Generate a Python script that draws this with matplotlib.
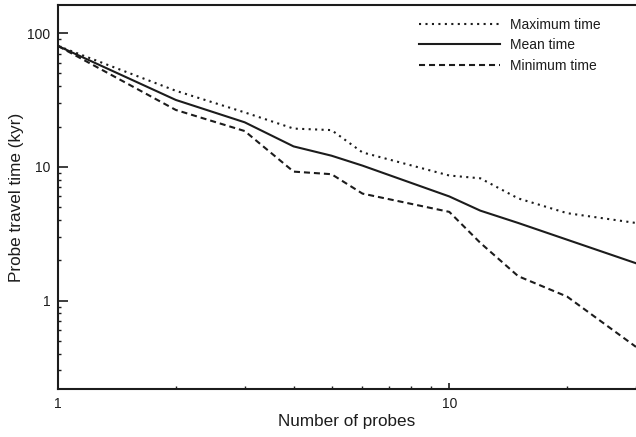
"""
probe travel time against number of probes, log-log
"""

import numpy as np
import matplotlib.pyplot as plt
from matplotlib.ticker import LogLocator, NullFormatter, FixedLocator, FixedFormatter

# data
n_probes  = [1, 2, 3, 4, 5, 6, 10, 12, 15, 20, 30]
max_time  = [80, 37.0, 25.5, 19.3, 18.8, 12.8, 8.6, 8.2, 5.8, 4.5, 3.8]
mean_time = [80, 31.6, 21.5, 14.2, 12.1, 10.2, 6.0, 4.7, 3.8, 2.85, 1.9]
min_time  = [80, 26.6, 18.5, 9.2, 8.8, 6.3, 4.6, 2.7, 1.52, 1.07, 0.45]

labels = ['Maximum time', 'Mean time', 'Minimum time']

# figure and axes parameters
plot_width  = 6.36
plot_height = 4.37
ftsize      = 10
lc          = '#1c1c1c'

plt.rc('font', family='Liberation Sans')

fig = plt.figure(figsize=(plot_width, plot_height), dpi=100)
ax = fig.add_axes([58/636, 1-389/437, 1-58/636, (389-5)/437])

ax.plot(n_probes, max_time, color=lc, lw=1.5, linestyle=(0, (1, 2.1)),
        label=labels[0])
ax.plot(n_probes, mean_time, color=lc, lw=1.5, linestyle='-',
        label=labels[1])
ax.plot(n_probes, min_time, color=lc, lw=1.5, linestyle=(0, (2.9, 1.9)),
        label=labels[2])

ax.set_xscale('log')
ax.set_yscale('log')
ax.set_xlim(1, 30)
ax.set_ylim(0.218, 162)

# ticks
ax.xaxis.set_major_locator(FixedLocator([1, 10]))
ax.xaxis.set_major_formatter(FixedFormatter(['1', '10']))
ax.xaxis.set_minor_locator(LogLocator(base=10, subs=np.arange(2, 10)))
ax.xaxis.set_minor_formatter(NullFormatter())
ax.yaxis.set_major_locator(FixedLocator([1, 10, 100]))
ax.yaxis.set_major_formatter(FixedFormatter(['1', '10', '100']))
ax.yaxis.set_minor_locator(LogLocator(base=10, subs=np.arange(2, 10)))
ax.yaxis.set_minor_formatter(NullFormatter())

ax.tick_params(axis='both', which='both', direction='in', color=lc,
               labelsize=ftsize, labelcolor=lc)
ax.tick_params(axis='x', which='major', length=4, width=1.2, pad=6)
ax.tick_params(axis='x', which='minor', length=2.5, width=1.0)
ax.tick_params(axis='y', which='major', length=7, width=1.2, pad=5.5)
ax.tick_params(axis='y', which='minor', length=2.5, width=1.0)

for side in ['left', 'bottom', 'top']:
    ax.spines[side].set_linewidth(1.5)
    ax.spines[side].set_color(lc)
ax.spines['right'].set_visible(False)

ax.set_xlabel('Number of probes', fontsize=12.3, color=lc, labelpad=2)
ax.set_ylabel('Probe travel time (kyr)', fontsize=12.3, color=lc, labelpad=2)

leg = ax.legend(loc='upper right', bbox_to_anchor=(601/636, 1-18/437),
                bbox_transform=fig.transFigure, frameon=False,
                fontsize=10, handlelength=5.8, handletextpad=0.75,
                labelspacing=0.45, borderpad=0, borderaxespad=0)
for t in leg.get_texts():
    t.set_color(lc)

fig.savefig('out.png', dpi=100)
